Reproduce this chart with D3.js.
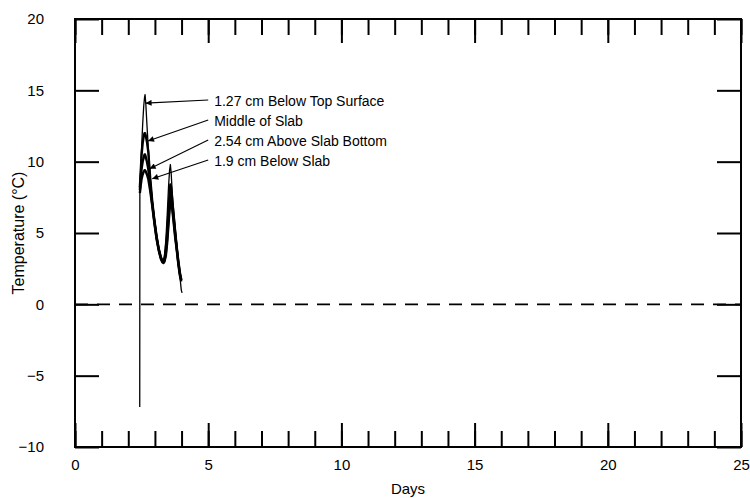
<!DOCTYPE html>
<html>
<head>
<meta charset="utf-8">
<script src="https://cdn.jsdelivr.net/npm/d3@7/dist/d3.min.js"></script>
<style>
  html, body { margin: 0; padding: 0; background: #fff; }
  svg { display: block; }
  text { font-family: "Liberation Sans", Arial, Helvetica, sans-serif; fill: #000; }
</style>
</head>
<body>
<svg id="chart" width="750" height="498"></svg>
<script>
// ---- Data ----
const days = [2.43, 2.435, 2.47, 2.50, 2.54, 2.58, 2.61, 2.63, 2.66, 2.70, 2.75, 2.82, 2.90, 2.98, 3.06, 3.14, 3.22, 3.28, 3.32, 3.36, 3.41, 3.46, 3.51, 3.55, 3.58, 3.61, 3.65, 3.70, 3.76, 3.82, 3.88, 3.94, 3.99, 4.02];
const topSurface   = [-7.2, 8.3, 9.8, 11.0, 12.6, 13.9, 14.5, 14.7, 14.0, 12.6, 11.0, 9.0, 7.3, 6.0, 4.9, 4.0, 3.3, 3.0, 3.0, 3.4, 4.5, 6.2, 8.2, 9.4, 9.8, 9.2, 7.8, 6.6, 5.4, 4.2, 3.0, 1.9, 1.0, 0.8];
const middleSlab   = [null, 8.2, 9.4, 10.5, 11.3, 11.8, 12.0, 12.0, 11.8, 11.4, 10.7, 8.9, 7.2, 5.9, 4.8, 3.9, 3.3, 3.05, 3.0, 3.2, 3.9, 5.0, 6.6, 7.8, 8.4, 8.2, 7.3, 6.3, 5.1, 4.0, 3.0, 2.2, 1.7, null];
const aboveBottom  = [null, 8.0, 8.9, 9.5, 10.0, 10.3, 10.5, 10.5, 10.3, 10.0, 9.5, 8.4, 7.0, 5.8, 4.7, 3.9, 3.3, 3.0, 2.95, 3.1, 3.6, 4.6, 6.0, 7.0, 7.6, 7.6, 6.9, 6.0, 4.9, 3.9, 2.9, 2.1, 1.7, null];
const belowSlab    = [null, 7.8, 8.4, 8.8, 9.1, 9.3, 9.4, 9.4, 9.3, 9.1, 8.8, 8.0, 6.9, 5.7, 4.6, 3.8, 3.2, 2.95, 2.9, 3.0, 3.4, 4.3, 5.6, 6.6, 7.2, 7.3, 6.7, 5.8, 4.7, 3.8, 2.8, 2.0, 1.6, null];
const seriesNames  = ["1.27 cm Below Top Surface", "Middle of Slab", "2.54 cm Above Slab Bottom", "1.9 cm Below Slab"];
const arrowDays    = [2.65, 2.74, 2.80, 2.90];
const arrowTemps   = [14.1, 11.45, 9.5, 8.8];
const xTicks = [0, 5, 10, 15, 20, 25];
const yTicks = [-10, -5, 0, 5, 10, 15, 20];
const xMinorTicks = d3.range(0, 26, 1);

// ---- Layout ----
const W = 750, H = 498;
const m = { left: 75, right: 9, top: 19, bottom: 51 };
const svg = d3.select("#chart");
const x = d3.scaleLinear().domain([0, 25]).range([m.left, W - m.right]);
const y = d3.scaleLinear().domain([-10, 20]).range([H - m.bottom, m.top]);

// zero dashed line
svg.append("line")
  .attr("x1", x(0)).attr("x2", x(25))
  .attr("y1", y(0)).attr("y2", y(0))
  .attr("stroke", "#000").attr("stroke-width", 1.6)
  .attr("stroke-dasharray", "13,9");

function styleAxis(g) {
  g.select(".domain").remove();
  g.selectAll(".tick line").attr("stroke", "#000").attr("stroke-width", 2);
  g.selectAll(".tick text").attr("font-size", 15).attr("fill", "#000");
}

// x axes: minor and major, bottom and top
svg.append("g").attr("transform", `translate(0,${y(-10)})`)
  .call(d3.axisBottom(x).tickValues(xMinorTicks).tickSize(-16).tickFormat(""))
  .call(styleAxis);
svg.append("g").attr("transform", `translate(0,${y(-10)})`)
  .call(d3.axisBottom(x).tickValues(xTicks).tickSize(-24).tickPadding(26).tickFormat(d3.format("d")))
  .call(styleAxis)
  .call(g => g.selectAll(".tick text").attr("dy", "-0.2em"));
svg.append("g").attr("transform", `translate(0,${y(20)})`)
  .call(d3.axisTop(x).tickValues(xMinorTicks).tickSize(-16).tickFormat(""))
  .call(styleAxis);
svg.append("g").attr("transform", `translate(0,${y(20)})`)
  .call(d3.axisTop(x).tickValues(xTicks).tickSize(-24).tickFormat(""))
  .call(styleAxis);

// y axes
svg.append("g").attr("transform", `translate(${x(0)},0)`)
  .call(d3.axisLeft(y).tickValues(yTicks).tickSize(-24).tickPadding(31).tickFormat(d => d < 0 ? "\u2212" + Math.abs(d) : d))
  .call(styleAxis);
svg.append("g").attr("transform", `translate(${x(25)},0)`)
  .call(d3.axisRight(y).tickValues(yTicks).tickSize(-24).tickFormat(""))
  .call(styleAxis);

// frame
svg.append("rect")
  .attr("x", x(0)).attr("y", y(20))
  .attr("width", x(25) - x(0)).attr("height", y(-10) - y(20))
  .attr("fill", "none").attr("stroke", "#000").attr("stroke-width", 2);

// data lines
const allSeries = [topSurface, middleSlab, aboveBottom, belowSlab];
const widths = [1.3, 2.4, 2.4, 2.4];
const line = d3.line()
  .defined(d => d[1] !== null)
  .x(d => x(d[0])).y(d => y(d[1]));
allSeries.slice().reverse().forEach((s, ri) => {
  const i = allSeries.length - 1 - ri;
  svg.append("path")
    .datum(days.map((t, k) => [t, s[k]]))
    .attr("d", line)
    .attr("fill", "none").attr("stroke", "#000")
    .attr("stroke-width", widths[i]).attr("stroke-linejoin", "round");
});

// annotations
svg.append("defs").append("marker")
  .attr("id", "arrow").attr("viewBox", "0 0 10 10")
  .attr("refX", 10).attr("refY", 5)
  .attr("markerWidth", 7).attr("markerHeight", 6)
  .attr("markerUnits", "userSpaceOnUse")
  .attr("orient", "auto")
  .append("path").attr("d", "M0,0 L10,5 L0,10 Z").attr("fill", "#000");

const labelX = x(5.15);
const labelY0 = 101;
seriesNames.forEach((name, i) => {
  const ly = labelY0 + i * 20;
  svg.append("line")
    .attr("x1", labelX - 4).attr("y1", ly - 1)
    .attr("x2", x(arrowDays[i])).attr("y2", y(arrowTemps[i]))
    .attr("stroke", "#000").attr("stroke-width", 1.1)
    .attr("marker-end", "url(#arrow)");
  svg.append("text")
    .attr("x", labelX + 2).attr("y", ly)
    .attr("dy", "0.35em")
    .attr("font-size", 14)
    .text(name);
});

// axis titles
svg.append("text")
  .attr("x", (x(0) + x(25)) / 2).attr("y", 494)
  .attr("text-anchor", "middle").attr("font-size", 15)
  .text("Days");
svg.append("text")
  .attr("transform", `translate(24,${(y(20) + y(-10)) / 2}) rotate(-90)`)
  .attr("text-anchor", "middle").attr("font-size", 16)
  .text("Temperature (\u00B0C)");
</script>
</body>
</html>
